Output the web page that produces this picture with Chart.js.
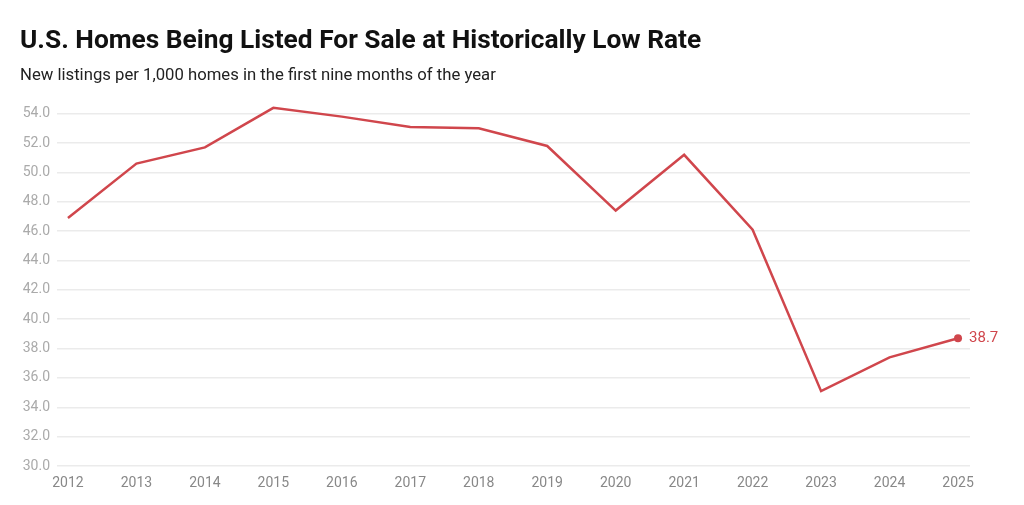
<!DOCTYPE html>
<html>
<head>
<meta charset="utf-8">
<script src="https://cdn.jsdelivr.net/npm/chart.js@4.4.1/dist/chart.umd.min.js"></script>
<style>
html,body{margin:0;padding:0;background:#fff;}
#wrap{width:1024px;height:505px;}
</style>
</head>
<body>
<div id="wrap"><canvas id="Chart1" width="1024" height="505"></canvas></div>
<script>
var years = [2012, 2013, 2014, 2015, 2016, 2017, 2018, 2019, 2020, 2021, 2022, 2023, 2024, 2025];
var listings = [46.9, 50.6, 51.7, 54.4, 53.8, 53.1, 53.0, 51.8, 47.4, 51.2, 46.1, 35.1, 37.4, 38.7];
var yTicks = [30, 32, 34, 36, 38, 40, 42, 44, 46, 48, 50, 52, 54];
var lineCol = '#d0464c';

window.onload = function () {
    buildchart();
}

// label next to the last point
var endLabel = {
    id: 'endLabel',
    afterDatasetsDraw: function (chart) {
        var meta = chart.getDatasetMeta(0);
        var pt = meta.data[meta.data.length - 1];
        var ctx = chart.ctx;
        ctx.save();
        ctx.font = '15px Roboto';
        ctx.fillStyle = lineCol;
        ctx.textAlign = 'left';
        ctx.textBaseline = 'middle';
        ctx.fillText(listings[listings.length - 1].toFixed(1), pt.x + 11, pt.y);
        ctx.restore();
    }
};

function buildchart() {
    var pts = [];
    var rad = [];
    for (var i = 0; i < years.length; i++) {
        pts.push({x: years[i], y: listings[i]});
        rad.push(i == years.length - 1 ? 4 : 0);
    }
    var ctx = document.getElementById('Chart1').getContext('2d');
    var chart = new Chart(ctx, {
        type: 'line',
        data: {datasets: [{
            data: pts,
            borderColor: lineCol,
            backgroundColor: lineCol,
            borderWidth: 2.5,
            pointRadius: rad,
            pointHoverRadius: rad,
            pointBorderWidth: 0,
            tension: 0
        }]},
        options: {
            responsive: false,
            animation: false,
            layout: {padding: {left: 20, right: 54, top: 0, bottom: 10}},
            plugins: {
                legend: {display: false},
                tooltip: {enabled: false},
                title: {
                    display: true,
                    text: 'U.S. Homes Being Listed For Sale at Historically Low Rate',
                    align: 'start',
                    color: '#111',
                    font: {family: 'Roboto', size: 26.3, weight: 'bold', lineHeight: 1.2},
                    padding: {top: 26, bottom: 2}
                },
                subtitle: {
                    display: true,
                    text: 'New listings per 1,000 homes in the first nine months of the year',
                    align: 'start',
                    color: '#222',
                    font: {family: 'Roboto', size: 16.7, lineHeight: 1.2},
                    padding: {top: 6.4, bottom: 13}
                }
            },
            scales: {
                x: {
                    type: 'linear',
                    min: 2011.84,
                    max: 2025.175,
                    afterBuildTicks: function (s) { s.ticks = years.map(function (v) { return {value: v}; }); },
                    afterFit: function (s) { s.height = 29; },
                    grid: {display: false},
                    border: {display: false},
                    ticks: {
                        color: '#888',
                        font: {family: 'Roboto', size: 14},
                        padding: 1,
                        maxRotation: 0,
                        autoSkip: false,
                        callback: function (v) { return String(v); }
                    }
                },
                y: {
                    min: 30,
                    max: 55,
                    afterBuildTicks: function (s) { s.ticks = yTicks.map(function (v) { return {value: v}; }); },
                    afterFit: function (s) { s.width = 37; },
                    grid: {color: '#ebebeb', lineWidth: 1.5, drawTicks: false},
                    border: {display: false},
                    ticks: {
                        color: '#aaa',
                        font: {family: 'Roboto', size: 14},
                        padding: 7,
                        callback: function (v) { return v.toFixed(1); }
                    }
                }
            }
        },
        plugins: [endLabel]
    });
}
</script>
</body>
</html>
